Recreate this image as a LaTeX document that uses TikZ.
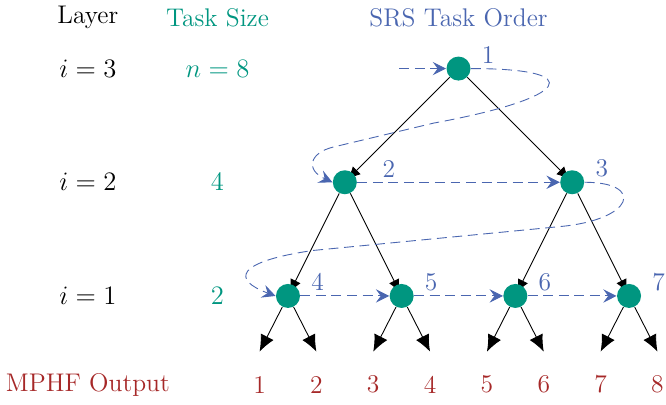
\documentclass[tikz,border=0pt]{standalone}
\usetikzlibrary{arrows.meta,backgrounds}

\definecolor{sizegreen}{RGB}{0,150,128}
\definecolor{orderblue}{RGB}{74,102,176}
\definecolor{outred}{RGB}{166,40,40}

\tikzset{
  task/.style={circle, fill=sizegreen, minimum size=3.8mm, inner sep=0pt},
  ordernum/.style={text=orderblue, shift={(0.26,0.12)}},
  treeedge/.style={thin, -{Latex[length=6pt,width=5pt]}, shorten >=-4pt},
  leafedge/.style={thin, -{Latex[length=7.5pt,width=6.5pt]}},
  order/.style={orderblue, dash pattern=on 4.5pt off 2.5pt, -{Stealth[length=6pt,width=6pt,inset=2.2pt]}},
}

\begin{document}
\begin{tikzpicture}[x=1.8cm, y=1.8cm, font=\fontsize{11.5}{14}\selectfont]
  \useasboundingbox (-2.533,-0.959) rectangle (3.325,2.603);

  % column heads
  \node (layerhead) at (-1.76, 2.45) {Layer};
  \node[text=sizegreen] (sizehead) at (-0.62, 2.45) {Task Size};
  \node[text=orderblue] (orderhead) at (1.5, 2.45) {SRS Task Order};

  \node (layer3) at (-1.76, 2) {$i = 3$};
  \node (layer2) at (-1.76, 1) {$i = 2$};
  \node (layer1) at (-1.76, 0) {$i = 1$};
  \node[text=sizegreen] (size3) at (-0.62, 2) {$n = 8$};
  \node[text=sizegreen] (size2) at (-0.62, 1) {$4$};
  \node[text=sizegreen] (size1) at (-0.62, 0) {$2$};

  % task tree
  \node[task, label={[ordernum]center:1}] (n1) at (1.5, 2) {};
  \node[task, label={[ordernum, xshift=0.23cm]center:2}] (n2) at (0.5, 1) {};
  \node[task, label={[ordernum]center:3}] (n3) at (2.5, 1) {};
  \node[task, label={[ordernum]center:4}] (n4) at (0, 0) {};
  \node[task, label={[ordernum]center:5}] (n5) at (1, 0) {};
  \node[task, label={[ordernum]center:6}] (n6) at (2, 0) {};
  \node[task, label={[ordernum]center:7}] (n7) at (3, 0) {};

  \begin{scope}[on background layer]
    \draw[treeedge] (n1) -- (n2);
    \draw[treeedge] (n1) -- (n3);
    \draw[treeedge] (n2) -- (n4);
    \draw[treeedge] (n2) -- (n5);
    \draw[treeedge] (n3) -- (n6);
    \draw[treeedge] (n3) -- (n7);
  \end{scope}

  % leaves and MPHF output
  \node[text=outred] (outhead) at (-1.76, -0.78) {MPHF Output};
  \foreach \t/\x/\a/\b in {n4/0/1/2, n5/1/3/4, n6/2/5/6, n7/3/7/8} {
    \coordinate (leaf\a) at (\x-0.25, -0.49);
    \coordinate (leaf\b) at (\x+0.25, -0.49);
    \draw[leafedge] (\t) -- (leaf\a);
    \draw[leafedge] (\t) -- (leaf\b);
    \node[text=outred] (out\a) at (\x-0.25, -0.78) {\a};
    \node[text=outred] (out\b) at (\x+0.25, -0.78) {\b};
  }

  % processing order
  \coordinate (entry) at (0.98, 2);
  \draw[order] (entry) -- (n1);
  \draw[order] (n1.east) .. controls (2.66,2.0) and (2.48,1.74) .. (1.28,1.52)
    -- (0.4,1.31) .. controls (0.19,1.26) and (0.15,1.11) .. (n2.west);
  \draw[order] (n2) -- (n3);
  \draw[order] (n3.east) .. controls (3.14,1.0) and (3.05,0.67) .. (2.39,0.61)
    -- (0.22,0.4) .. controls (-0.47,0.3) and (-0.49,0.14) .. (n4.west);
  \draw[order] (n4) -- (n5);
  \draw[order] (n5) -- (n6);
  \draw[order] (n6) -- (n7);
\end{tikzpicture}
\end{document}
